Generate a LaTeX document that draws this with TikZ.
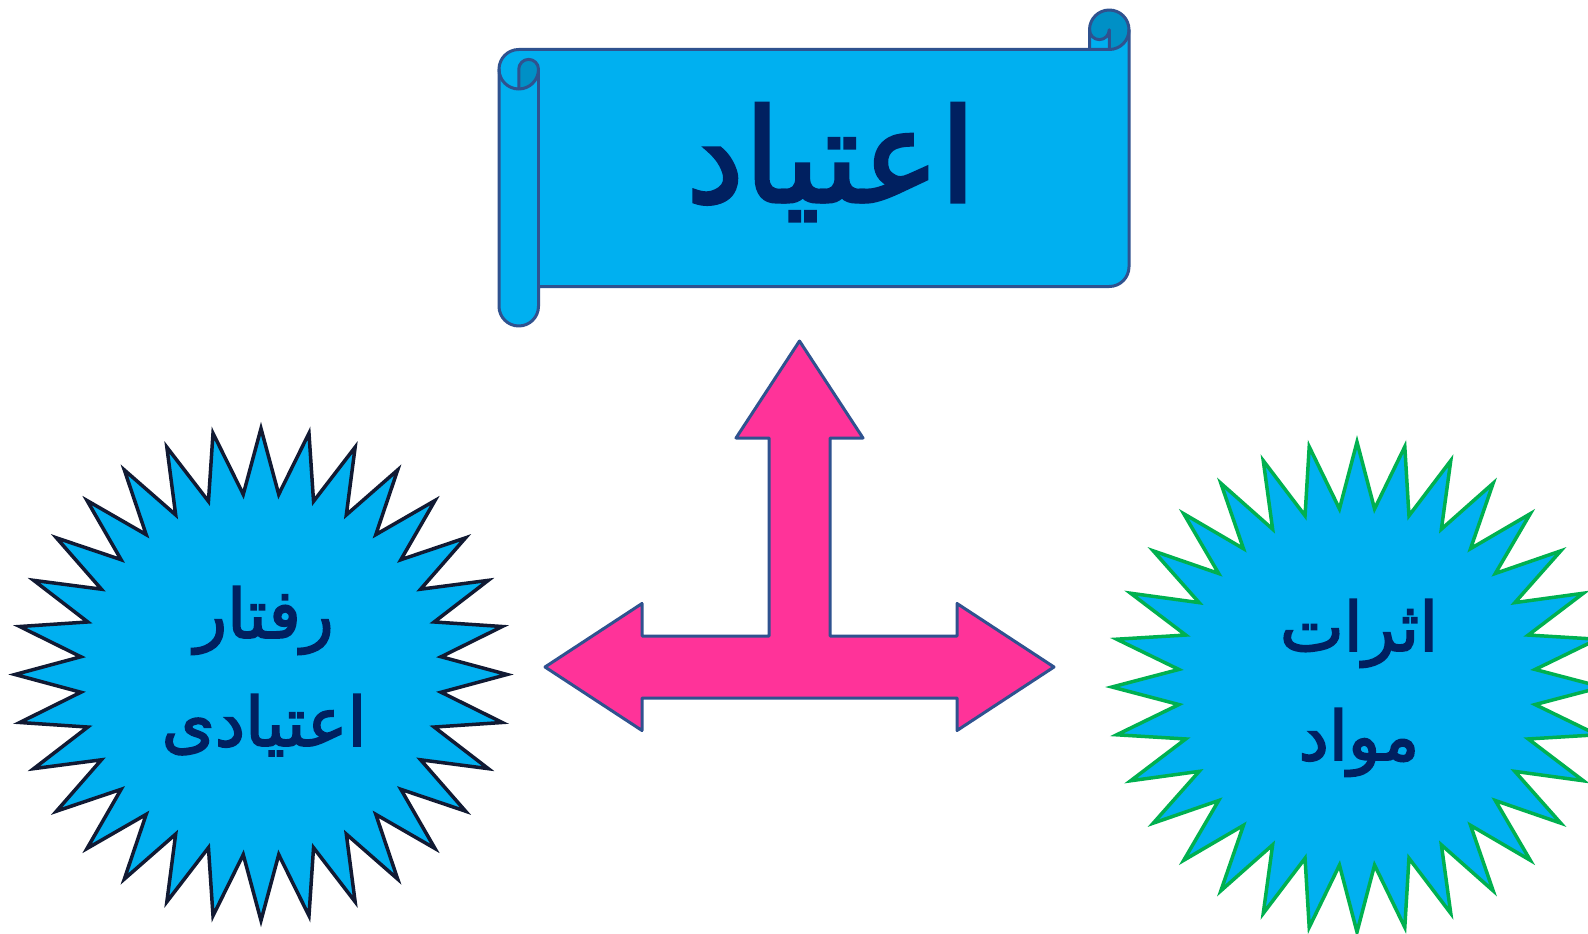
\documentclass[tikz,border=0pt]{standalone}
\usepackage{fontspec}
\newfontfamily\arabicfont[Script=Arabic, FakeBold=2.5]{DejaVu Sans}
\TeXXeTstate=1
\definecolor{fillblue}{HTML}{00B0F0}
\definecolor{rolldark}{HTML}{0090C6}
\definecolor{textnavy}{HTML}{002060}
\definecolor{edgeblue}{HTML}{2F528F}
\definecolor{edgedark}{HTML}{111A33}
\definecolor{edgegreen}{HTML}{00B050}
\definecolor{arrowpink}{HTML}{FF3399}
\tikzset{
  scrollline/.style={draw=edgeblue, line width=3pt, line join=round, line cap=round},
  arrowshape/.style={fill=arrowpink, draw=edgeblue, line width=3pt, line join=round},
  starleft/.style={fill=fillblue, draw=edgedark, line width=3.5pt, line join=miter},
  starright/.style={fill=fillblue, draw=edgegreen, line width=3.5pt, line join=miter},
  titletext/.style={font=\arabicfont\fontsize{130}{150}\selectfont, text=textnavy, inner sep=0pt},
  startext/.style={font=\arabicfont\fontsize{68}{80}\selectfont, text=textnavy, inner sep=0pt},
}
\begin{document}
\begin{tikzpicture}[x=1pt,y=1pt]
\useasboundingbox (0,0) rectangle (1588,-934);
\fill[white] (0,0) rectangle (1588,-934);
\clip (0,0) rectangle (1588,-934);

% ---------- scroll ----------
\fill[fillblue] (1129,-29.75) arc[start angle=0,end angle=-90,radius=19.75]
  -- (1109.25,-29.75) arc[start angle=0,end angle=-180,radius=9.875]
  -- (1089.5,-49.5) -- (518.75,-49.5) arc[start angle=-270,end angle=-180,radius=19.75]
  -- (499,-306.25) arc[start angle=-180,end angle=0,radius=19.75]
  -- (538.5,-286.5) -- (1109.25,-286.5) arc[start angle=-90,end angle=0,radius=19.75] -- cycle;
\fill[rolldark] (518.75,-89) arc[start angle=-90,end angle=0,radius=19.75]
  arc[start angle=0,end angle=180,radius=9.875] -- cycle;
\fill[rolldark] (1109.25,-49.5) arc[start angle=-90,end angle=180,radius=19.75]
  arc[start angle=-180,end angle=0,radius=9.875] -- cycle;
\draw[scrollline] (499,-69.25) arc[start angle=-180,end angle=-270,radius=19.75]
  -- (1089.5,-49.5) -- (1089.5,-29.75) arc[start angle=-180,end angle=-360,radius=19.75]
  -- (1129,-266.75) arc[start angle=0,end angle=-90,radius=19.75]
  -- (538.5,-286.5) -- (538.5,-306.25) arc[start angle=0,end angle=-180,radius=19.75] -- cycle;
\draw[scrollline] (1089.5,-49.5) -- (1109.25,-49.5) arc[start angle=-90,end angle=0,radius=19.75];
\draw[scrollline] (1109.25,-49.5) -- (1109.25,-29.75) arc[start angle=0,end angle=-180,radius=9.875];
\draw[scrollline] (518.75,-89) -- (518.75,-69.25) arc[start angle=-180,end angle=-360,radius=9.875]
  arc[start angle=0,end angle=-180,radius=19.75];
\draw[scrollline] (538.5,-69.25) -- (538.5,-286.5);
\node[titletext, anchor=base] (title) at (831,-202) {\beginR اعتیاد\endR};

% ---------- arrow ----------
\draw[arrowshape] (799.5,-341) -- (863,-438) -- (830,-438) -- (830,-636) -- (957,-636)
  -- (957,-603.5) -- (1054,-667) -- (957,-730.5) -- (957,-698) -- (642,-698)
  -- (642,-730.5) -- (545,-667) -- (642,-603.5) -- (642,-636) -- (769,-636)
  -- (769,-438) -- (736,-438) -- cycle;

% ---------- stars ----------
\draw[starleft, shift={(261,-674.5)}] (90:246)
  \foreach \i in {0,...,31} { -- ({95.625+\i*11.25}:181) -- ({101.25+\i*11.25}:246) } -- cycle;
\draw[starright, shift={(1357,-687)}] (90:245)
  \foreach \i in {0,...,31} { -- ({95.625+\i*11.25}:179) -- ({101.25+\i*11.25}:245) } -- cycle;

\node[startext, anchor=base] (l1) at (264,-638) {\beginR رفتار\endR};
\node[startext, anchor=base] (l2) at (264,-746) {\beginR اعتیادی\endR};
\node[startext, anchor=base] (r1) at (1359,-651) {\beginR اثرات\endR};
\node[startext, anchor=base] (r2) at (1359,-760) {\beginR مواد\endR};
\end{tikzpicture}
\end{document}
